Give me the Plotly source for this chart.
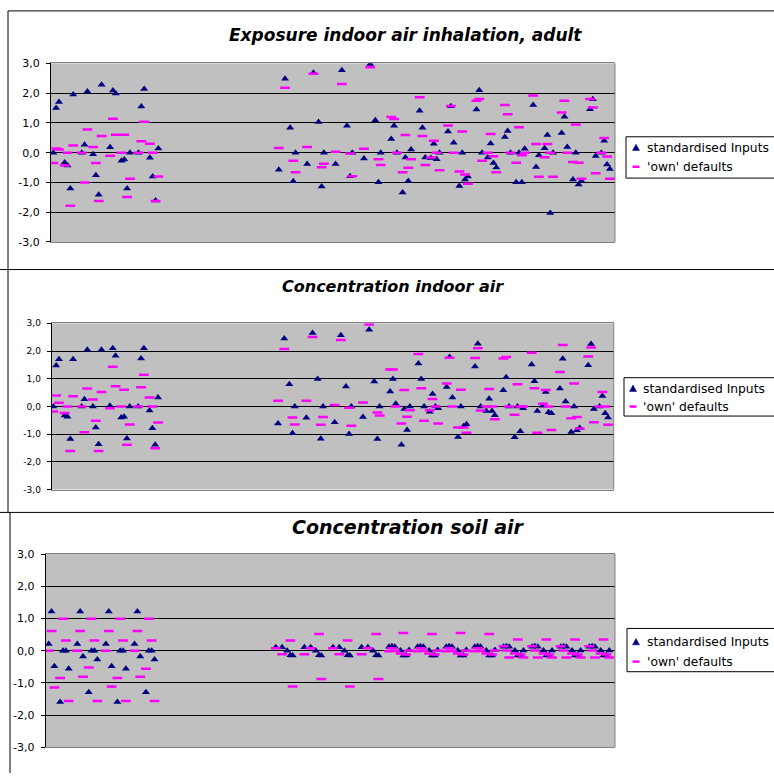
import plotly.graph_objects as go

# ---------------- data ----------------
# category positions (shared by the three charts)
positions = [0, 1, 2, 4, 5, 6, 7, 10, 11, 12, 14, 15, 16, 17, 20, 21, 22, 24, 25, 26, 27,
             30, 31, 32, 34, 35, 36, 37,
             79.4, 81.6, 83.4, 84.5, 85.3, 89.4, 91.6, 93.4, 94.5, 95.3,
             99.4, 101.6, 103.4, 104.5, 105.3, 109.4, 111.6, 113.4, 114.5, 115.3,
             119, 120, 121, 123, 124, 125, 126, 129, 130, 131, 133, 134, 135, 136,
             139, 140, 141, 143, 144, 145, 146, 149, 150, 151, 153, 154, 155, 156,
             159, 160, 161, 163, 164, 165, 166, 169, 170, 171, 173, 174, 175, 176,
             179, 180, 181, 183, 184, 185, 186, 189, 190, 191, 193, 194, 195, 196]

exposure_std = [0.0, 1.5, 1.7, -0.33, -0.43, -1.2, 1.95, 0.0, 0.27, 2.05, -0.05, -0.76, -1.41, 2.28,
                0.18, 2.09, 1.99, -0.27, -0.23, -1.2, 0.0, 0.0, 1.55, 2.14, -0.17, -0.8, -1.61, 0.14,
                -0.57, 2.48, 0.84, -0.96, 0.0, -0.38, 2.68, 1.03, -1.14, 0.0,
                -0.38, 2.77, 0.9, -0.79, 0.0, -0.2, 2.98, 1.09, -0.99, 0.0,
                0.46, 0.9, 0.0, -1.34, -0.16, -0.95, 0.11, 1.41, 0.84, -0.16, -0.18, 0.3, -0.22, 0.0,
                0.71, 1.56, 0.33, -1.12, 0.0, -0.9, -0.8, 1.45, 2.1, 0.0, -0.16, 0.31, -0.35, -0.5,
                0.53, 0.73, 0.0, -0.99, 0.0, -0.99, 0.13, 1.6, -0.48, -0.09, 0.15, 0.59, -2.03, 0.0,
                0.66, 1.21, 0.19, -0.9, 0.0, -1.07, -0.95, 1.46, 1.79, -0.11, 0.0, 0.4, -0.4, -0.55]
exposure_own = [-0.35, 0.14, 0.11, -0.43, 0.0, -1.78, 0.24, 0.0, -1.0, 0.78, 0.19, -0.35, -1.62, 0.56,
                -0.1, 1.14, 0.6, 0.0, 0.6, -1.49, -0.88, 0.0, 0.38, 1.04, 0.3, 0.0, -1.62, -0.8,
                0.16, 2.18, None, -0.27, -0.66, 0.19, 2.65, None, -0.49, -0.37,
                0.03, 2.31, None, -0.03, -0.79, 0.13, 2.87, None, -0.22, -0.41,
                1.2, 1.13, 0.0, -0.66, 0.59, -0.51, -0.22, 1.86, 0.56, -0.41, -0.16, 0.4, 0.0, -0.59,
                0.91, 1.57, 0.0, -0.63, 0.71, -0.73, -1.04, 1.74, 1.8, -0.27, 0.0, 0.63, -0.12, -0.66,
                1.6, 1.29, 0.0, -0.34, 0.85, -0.09, 0.0, 1.92, 0.29, -0.81, -0.15, 0.29, 0.0, -0.81,
                1.35, 1.74, 0.0, -0.31, 0.95, -0.34, -0.88, 1.8, 1.52, -0.69, 0.0, 0.49, -0.13, -0.88]

indoor_std = [0.0, 1.48, 1.7, -0.33, -0.37, -1.18, 1.7, 0.0, 0.26, 2.05, 0.0, -0.76, -1.37, 2.05,
              0.02, 2.1, 1.83, -0.4, -0.37, -1.16, 0.0, 0.0, 1.73, 2.1, -0.15, -0.79, -1.38, 0.32,
              -0.62, 2.45, 0.8, -0.97, 0.0, -0.41, 2.65, 0.99, -1.17, 0.0,
              -0.57, 2.57, 0.72, -1.0, 0.0, -0.38, 2.77, 0.9, -1.18, 0.0,
              0.54, 0.99, 0.1, -1.38, -0.09, -0.85, 0.0, 1.55, 0.99, 0.0, -0.19, 0.45, 0.0, -0.07,
              0.7, 1.78, 0.32, -1.1, 0.0, -0.71, -0.64, 1.44, 2.26, 0.0, -0.17, 0.28, -0.17, -0.32,
              0.58, 1.05, 0.0, -1.11, 0.0, -0.9, -0.07, 1.51, 0.91, -0.17, 0.02, 0.52, -0.21, -0.25,
              0.65, 1.72, 0.18, -0.92, 0.0, -0.86, -0.78, 1.49, 2.25, -0.09, 0.0, 0.38, -0.25, -0.4]
indoor_own = [-0.18, 0.39, 0.13, -0.24, 0.0, -1.61, 0.37, 0.0, -0.93, 0.65, 0.25, -0.52, -1.61, 0.52,
              -0.07, 1.43, 0.73, 0.0, 0.6, -1.38, -0.65, 0.0, 0.69, 1.14, 0.32, 0.0, -1.51, -0.58,
              0.2, 2.07, None, -0.4, -0.65, 0.2, 2.51, None, -0.66, -0.38,
              0.05, 2.4, None, -0.05, -0.7, 0.14, 2.96, None, -0.22, -0.33,
              1.33, 1.33, 0.0, -0.62, 0.59, -0.37, -0.14, 1.89, 0.66, -0.52, -0.14, 0.27, 0.0, -0.62,
              0.83, 1.76, 0.0, -0.76, 0.6, -0.76, -0.95, 1.75, 2.1, -0.15, 0.0, 0.63, 0.0, -0.46,
              1.73, 1.78, 0.0, -0.3, 0.8, 0.0, 0.0, 1.94, 0.66, -0.95, 0.1, 0.59, 0.0, -0.85,
              1.24, 2.22, 0.0, -0.43, 0.83, -0.38, -0.8, 1.8, 2.13, -0.57, 0.0, 0.52, 0.0, -0.66]

soil_std = [0.21, 1.22, -0.48, -1.59, 0.0, 0.0, -0.56, 0.21, 1.22, -0.18, -1.29, 0.0, 0.0, -0.27,
            0.21, 1.22, -0.48, -1.59, 0.0, 0.0, -0.56, 0.21, 1.22, -0.18, -1.29, 0.0, 0.0, -0.27,
            0.11, 0.11, 0.0, -0.14, -0.15, 0.11, 0.11, 0.0, -0.14, -0.15,
            0.11, 0.11, 0.0, -0.14, -0.15, 0.11, 0.11, 0.0, -0.14, -0.15,
            0.12, 0.14, 0.12, 0.01, -0.15, -0.15, 0.02, 0.12, 0.14, 0.12, 0.01, -0.15, -0.15, 0.02,
            0.12, 0.14, 0.12, 0.01, -0.15, -0.15, 0.02, 0.12, 0.14, 0.12, 0.01, -0.15, -0.15, 0.02,
            0.12, 0.14, 0.12, 0.01, -0.15, -0.15, 0.01, 0.12, 0.14, 0.12, 0.01, -0.15, -0.15, 0.01,
            0.12, 0.14, 0.12, 0.01, -0.15, -0.15, 0.01, 0.12, 0.14, 0.12, 0.01, -0.15, -0.15, 0.01]
soil_own = [0.0, 0.61, -1.14, -0.85, 0.99, 0.32, -1.56, 0.0, 0.61, -0.81, -0.52, 0.99, 0.32, -1.56,
            0.0, 0.61, -1.11, -0.85, 0.99, 0.32, -1.56, 0.0, 0.61, -0.81, -0.56, 0.99, 0.32, -1.56,
            0.08, -0.11, None, 0.32, -1.11, -0.11, 0.08, None, 0.52, -0.88,
            0.08, -0.11, None, 0.32, -1.11, -0.11, 0.08, None, 0.52, -0.88,
            -0.02, 0.08, 0.0, -0.09, 0.55, -0.12, 0.01, -0.02, 0.08, 0.0, -0.09, 0.52, -0.12, 0.01,
            -0.02, 0.08, 0.0, -0.09, 0.55, -0.12, 0.01, -0.02, 0.08, 0.0, -0.09, 0.52, -0.12, 0.01,
            0.14, 0.01, -0.21, -0.09, 0.35, -0.12, -0.21, 0.14, 0.01, -0.21, -0.09, 0.35, -0.12, -0.21,
            0.14, 0.01, -0.21, -0.09, 0.35, -0.12, -0.21, 0.14, 0.01, -0.21, -0.09, 0.35, -0.12, -0.21]

titles = ["Exposure indoor air inhalation, adult", "Concentration indoor air", "Concentration soil air"]
series_names = ["standardised Inputs", "'own' defaults"]
y_ticks = [-3, -2, -1, 0, 1, 2, 3]
y_tick_labels = ["-3,0", "-2,0", "-1,0", "0,0", "1,0", "2,0", "3,0"]

# ---------------- layout helpers ----------------
W, H = 774, 780
def px(x):
    return x / W
def py(y):
    return 1 - y / H

NAVY = "#000080"
MAGENTA = "#FF00FF"
FONT = "DejaVu Sans, Liberation Sans, Arial, sans-serif"

panels = [
    # plot-area pixel box, x range, tick font size, title pos, legend geometry
    dict(std=exposure_std, own=exposure_own, box=(51, 58.3, 615, 240), xr=[-0.81, 197.8], tfs=11,
         title=(405, 29, 17), leg=(626, 133, 175, 636, 144, 163.5, 645)),
    dict(std=indoor_std, own=indoor_own, box=(51.7, 322.7, 613.7, 491.7), xr=[-0.57, 198.0], tfs=9,
         title=(393, 285, 16), leg=(624, 378, 417, 633, 389, 407.3, 641)),
    dict(std=soil_std, own=soil_own, box=(45.7, 557.3, 615, 754), xr=[-1.05, 198.0], tfs=11,
         title=(408, 530, 19), leg=(627, 633, 677, 636, 646.7, 666.7, 645)),
]

fig = go.Figure()
layout = dict(width=W, height=H, margin=dict(l=0, r=0, t=0, b=0),
              paper_bgcolor="white", plot_bgcolor="#C0C0C0", showlegend=False)
shapes = []
annotations = []

for i, p in enumerate(panels):
    n = "" if i == 0 else str(i + 1)
    x0, y0, x1, y1 = p["box"]
    fig.add_trace(go.Scatter(x=positions, y=p["std"], mode="markers", name=series_names[0],
                             xaxis="x" + n, yaxis="y" + n,
                             marker=dict(symbol="triangle-up", size=7, color=NAVY, line=dict(width=0))))
    fig.add_trace(go.Scatter(x=positions, y=p["own"], mode="markers", name=series_names[1],
                             xaxis="x" + n, yaxis="y" + n,
                             marker=dict(symbol="line-ew", size=7, color=MAGENTA,
                                         line=dict(color=MAGENTA, width=2.5))))
    layout["xaxis" + n] = dict(domain=[px(x0), px(x1)], range=p["xr"], anchor="y" + n,
                               showgrid=False, zeroline=False, showticklabels=False, ticks="",
                               showline=True, linecolor="#808080", linewidth=1, mirror=True)
    layout["yaxis" + n] = dict(domain=[py(y1), py(y0)], range=[-3, 3], anchor="x" + n,
                               tickvals=y_ticks, ticktext=y_tick_labels,
                               ticks="outside", ticklen=4, tickcolor="black", tickwidth=1,
                               showgrid=True, gridcolor="black", gridwidth=1, zeroline=False,
                               showline=True, linecolor="black", linewidth=1,
                               ticklabelstandoff=4,
                               tickfont=dict(family=FONT, size=p["tfs"], color="black"))
    # right border of plot area
    shapes.append(dict(type="line", xref="x" + n + " domain", yref="y" + n + " domain",
                       x0=1, x1=1, y0=0, y1=1, line=dict(color="#808080", width=1)))
    # title
    tx, ty, tfs = p["title"]
    annotations.append(dict(text="<b><i>" + titles[i] + "</i></b>", xref="paper", yref="paper",
                            x=px(tx), y=py(ty), xanchor="center", yanchor="middle", showarrow=False,
                            font=dict(family=FONT, size=tfs, color="black")))
    # legend
    lx0, ly0, ly1, sx, ty1, ty2, textx = p["leg"]
    shapes.append(dict(type="rect", xref="paper", yref="paper", x0=px(lx0), x1=px(780),
                       y0=py(ly1), y1=py(ly0), line=dict(color="black", width=1),
                       fillcolor="white"))
    tri = "M {a},{b} L {c},{b} L {d},{e} Z".format(a=px(sx - 3.5), b=py(ty1 + 3), c=px(sx + 3.5),
                                                   d=px(sx), e=py(ty1 - 3.5))
    shapes.append(dict(type="path", xref="paper", yref="paper", path=tri,
                       fillcolor=NAVY, line=dict(color=NAVY, width=0.5)))
    shapes.append(dict(type="line", xref="paper", yref="paper", x0=px(sx - 3.5), x1=px(sx + 3.5),
                       y0=py(ty2), y1=py(ty2), line=dict(color=MAGENTA, width=2.5)))
    for label, yy in zip(series_names, [ty1, ty2]):
        annotations.append(dict(text=label, xref="paper", yref="paper", x=px(textx), y=py(yy),
                                xanchor="left", yanchor="middle", showarrow=False,
                                font=dict(family=FONT, size=12.3, color="black")))

# outer chart borders
for (a, b, c, d) in [(8, 5, 780, 5), (8, 5, 8, 268), (0, 268, 780, 268), (8, 268, 8, 515),
                     (0, 515, 780, 515), (10, 515, 10, 780)]:
    shapes.append(dict(type="line", xref="paper", yref="paper", x0=px(a), x1=px(c),
                       y0=py(b), y1=py(d), line=dict(color="black", width=1)))

layout["shapes"] = shapes
layout["annotations"] = annotations
fig.update_layout(**layout)
fig.write_html("out.html",
               config={"displayModeBar": False, "responsive": False},
               post_script="document.body.style.margin='0px';document.body.style.padding='0px';"
                           "document.body.style.overflow='hidden';")
